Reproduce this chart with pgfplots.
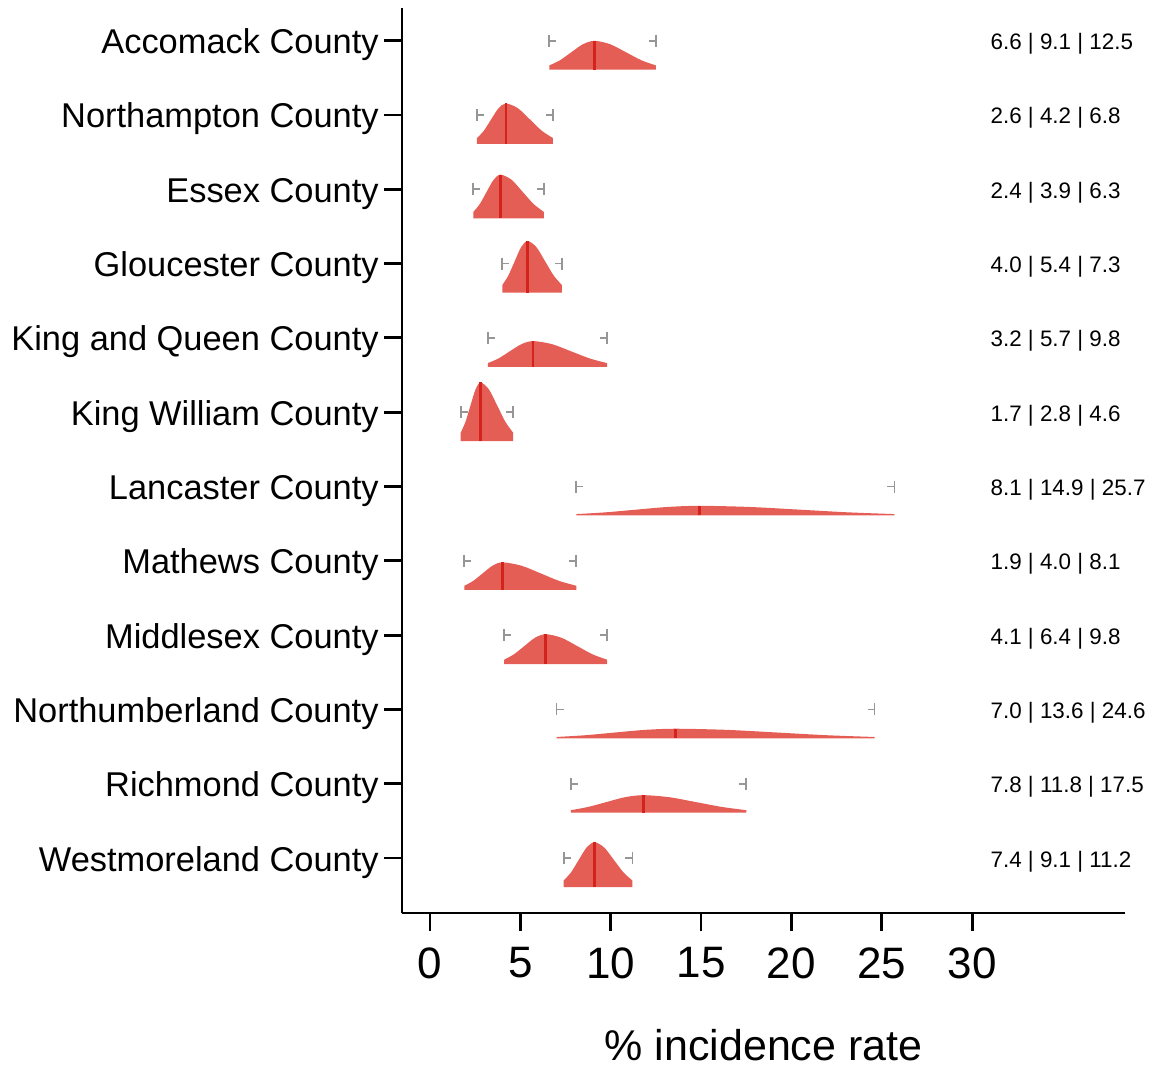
\documentclass[border=0pt]{standalone}
\usepackage{fontspec}
\setmainfont{Liberation Sans}
\usepackage{graphicx}
\usepackage{pgfplots}
\pgfplotsset{compat=1.18}
\usepgfplotslibrary{fillbetween}

\definecolor{vfill}{RGB}{228,94,85}
\definecolor{vmed}{RGB}{212,34,28}
\definecolor{capgray}{RGB}{150,150,150}

% interval end caps
\pgfdeclareplotmark{lcap}{%
  \pgfpathmoveto{\pgfqpoint{0pt}{3pt}}%
  \pgfpathlineto{\pgfqpoint{0pt}{-3pt}}%
  \pgfpathmoveto{\pgfqpoint{0pt}{0pt}}%
  \pgfpathlineto{\pgfqpoint{3.5pt}{0pt}}%
  \pgfusepathqstroke}
\pgfdeclareplotmark{rcap}{%
  \pgfpathmoveto{\pgfqpoint{0pt}{3pt}}%
  \pgfpathlineto{\pgfqpoint{0pt}{-3pt}}%
  \pgfpathmoveto{\pgfqpoint{0pt}{0pt}}%
  \pgfpathlineto{\pgfqpoint{-3.5pt}{0pt}}%
  \pgfusepathqstroke}

% row, lower, upper
\pgfplotstableread{
y lo hi
12 6.6 12.5
11 2.6 6.8
10 2.4 6.3
9 4.0 7.3
8 3.2 9.8
7 1.7 4.6
6 8.1 25.7
5 1.9 8.1
4 4.1 9.8
3 7.0 24.6
2 7.8 17.5
1 7.4 11.2
}\caps

\begin{document}
\begin{tikzpicture}
\begin{axis}[%
width=361.5pt,
height=452.5pt,
scale only axis,
xmin=-1.55, xmax=38.46,
ymin=0.26, ymax=12.44,
axis x line*=bottom,
axis y line*=left,
axis line style={line width=1.4pt},
tick align=outside,
major tick length=9pt,
major tick style={black, line width=1.4pt},
xtick={0,5,...,30},
ytick={1,...,12},
yticklabels={Westmoreland County, Richmond County, Northumberland County,
  Middlesex County, Mathews County, Lancaster County, King William County,
  King and Queen County, Gloucester County, Essex County,
  Northampton County, Accomack County},
yticklabel style={font=\fontsize{17.2}{17.2}\selectfont, inner sep=0pt, anchor=base east, yshift=-6.5pt},
yticklabel shift=2.5pt,
xticklabel style={font=\fontsize{22}{22}\selectfont, inner sep=0pt, anchor=north},
xticklabel shift=8pt,
/pgf/number format/assume math mode=true,
xlabel={\% incidence rate},
xlabel style={font=\fontsize{21.5}{21.5}\selectfont, inner sep=0pt,
  at={(axis description cs:0.5,0)}, anchor=north, yshift=-58pt},
clip=false,
]
\coordinate (sw) at (rel axis cs:0,0);

% Accomack
\addplot[name path=c12, smooth, draw=none] coordinates {
  (6.6,11.667) (7.19,11.736) (7.83,11.846) (8.46,11.952) (9.1,11.998)
  (9.97,11.952) (10.83,11.846) (11.70,11.736) (12.5,11.667)};
\addplot[name path=b12, draw=none] coordinates {(6.6,11.61) (12.5,11.61)};
\addplot[vfill] fill between[of=c12 and b12];

% Northampton
\addplot[name path=c11, smooth, draw=none] coordinates {
  (2.6,10.690) (2.976,10.787) (3.384,10.941) (3.792,11.091) (4.2,11.155)
  (4.863,11.091) (5.526,10.941) (6.189,10.787) (6.8,10.690)};
\addplot[name path=b11, draw=none] coordinates {(2.6,10.61) (6.8,10.61)};
\addplot[vfill] fill between[of=c11 and b11];

% Essex
\addplot[name path=c10, smooth, draw=none] coordinates {
  (2.4,9.696) (2.753,9.801) (3.135,9.966) (3.518,10.128) (3.9,10.197)
  (4.512,10.128) (5.124,9.966) (5.736,9.801) (6.3,9.696)};
\addplot[name path=b10, draw=none] coordinates {(2.4,9.61) (6.3,9.61)};
\addplot[vfill] fill between[of=c10 and b10];

% Gloucester
\addplot[name path=c9, smooth, draw=none] coordinates {
  (4.0,8.711) (4.329,8.836) (4.686,9.031) (5.043,9.222) (5.4,9.304)
  (5.885,9.222) (6.369,9.031) (6.854,8.836) (7.3,8.711)};
\addplot[name path=b9, draw=none] coordinates {(4.0,8.61) (7.3,8.61)};
\addplot[vfill] fill between[of=c9 and b9];

% King and Queen
\addplot[name path=c8, smooth, draw=none] coordinates {
  (3.2,7.661) (3.788,7.723) (4.425,7.821) (5.063,7.916) (5.7,7.957)
  (6.746,7.916) (7.791,7.821) (8.837,7.723) (9.8,7.661)};
\addplot[name path=b8, draw=none] coordinates {(3.2,7.61) (9.8,7.61)};
\addplot[vfill] fill between[of=c8 and b8];

% King William
\addplot[name path=c7, smooth, draw=none] coordinates {
  (1.7,6.725) (1.959,6.867) (2.239,7.090) (2.520,7.307) (2.8,7.400)
  (3.259,7.307) (3.718,7.090) (4.177,6.867) (4.6,6.725)};
\addplot[name path=b7, draw=none] coordinates {(1.7,6.61) (4.6,6.61)};
\addplot[vfill] fill between[of=c7 and b7];

% Lancaster
\addplot[name path=c6, smooth, draw=none] coordinates {
  (8.1,5.629) (9.698,5.652) (11.432,5.689) (13.166,5.725) (14.9,5.740)
  (17.654,5.725) (20.408,5.689) (23.162,5.652) (25.7,5.629)};
\addplot[name path=b6, draw=none] coordinates {(8.1,5.61) (25.7,5.61)};
\addplot[vfill] fill between[of=c6 and b6];

% Mathews
\addplot[name path=c5, smooth, draw=none] coordinates {
  (1.9,4.664) (2.394,4.730) (2.929,4.834) (3.465,4.935) (4.0,4.979)
  (5.046,4.935) (6.091,4.834) (7.137,4.730) (8.1,4.664)};
\addplot[name path=b5, draw=none] coordinates {(1.9,4.61) (8.1,4.61)};
\addplot[vfill] fill between[of=c5 and b5];

% Middlesex
\addplot[name path=c4, smooth, draw=none] coordinates {
  (4.1,3.669) (4.641,3.741) (5.227,3.854) (5.814,3.965) (6.4,4.012)
  (7.267,3.965) (8.134,3.854) (9.001,3.741) (9.8,3.669)};
\addplot[name path=b4, draw=none] coordinates {(4.1,3.61) (9.8,3.61)};
\addplot[vfill] fill between[of=c4 and b4];

% Northumberland
\addplot[name path=c3, smooth, draw=none] coordinates {
  (7.0,2.629) (8.551,2.652) (10.234,2.689) (11.917,2.725) (13.6,2.740)
  (16.405,2.725) (19.21,2.689) (22.015,2.652) (24.6,2.629)};
\addplot[name path=b3, draw=none] coordinates {(7.0,2.61) (24.6,2.61)};
\addplot[vfill] fill between[of=c3 and b3];

% Richmond
\addplot[name path=c2, smooth, draw=none] coordinates {
  (7.8,1.644) (8.74,1.687) (9.76,1.753) (10.78,1.818) (11.8,1.846)
  (13.254,1.818) (14.707,1.753) (16.161,1.687) (17.5,1.644)};
\addplot[name path=b2, draw=none] coordinates {(7.8,1.61) (17.5,1.61)};
\addplot[vfill] fill between[of=c2 and b2];

% Westmoreland
\addplot[name path=c1, smooth, draw=none] coordinates {
  (7.4,0.698) (7.800,0.806) (8.233,0.976) (8.667,1.142) (9.1,1.213)
  (9.636,1.142) (10.171,0.976) (10.707,0.806) (11.2,0.698)};
\addplot[name path=b1, draw=none] coordinates {(7.4,0.61) (11.2,0.61)};
\addplot[vfill] fill between[of=c1 and b1];

% medians
\addplot[vmed, line width=1.3pt, unbounded coords=jump] coordinates {
  (9.1,11.61) (9.1,11.998) (nan,nan)
  (4.2,10.61) (4.2,11.155) (nan,nan)
  (3.9,9.61) (3.9,10.197) (nan,nan)
  (5.4,8.61) (5.4,9.304) (nan,nan)
  (5.7,7.61) (5.7,7.957) (nan,nan)
  (2.8,6.61) (2.8,7.400) (nan,nan)
  (14.9,5.61) (14.9,5.740) (nan,nan)
  (4.0,4.61) (4.0,4.979) (nan,nan)
  (6.4,3.61) (6.4,4.012) (nan,nan)
  (13.6,2.61) (13.6,2.740) (nan,nan)
  (11.8,1.61) (11.8,1.846) (nan,nan)
  (9.1,0.61) (9.1,1.213)};

% interval caps
\addplot[only marks, mark=lcap, capgray, mark options={line width=0.9pt}] table[x=lo, y=y] {\caps};
\addplot[only marks, mark=rcap, capgray, mark options={line width=0.9pt}] table[x=hi, y=y] {\caps};

% summary text
\addplot[draw=none, mark=none, point meta=explicit symbolic,
  nodes near coords, nodes near coords align=horizontal,
  every node near coord/.append style={font=\fontsize{11.2}{11.2}\selectfont,
    inner sep=0pt, anchor=base west, yshift=-4.5pt, text=black}]
  coordinates {
  (31,12) [6.6 | 9.1 | 12.5]
  (31,11) [2.6 | 4.2 | 6.8]
  (31,10) [2.4 | 3.9 | 6.3]
  (31,9) [4.0 | 5.4 | 7.3]
  (31,8) [3.2 | 5.7 | 9.8]
  (31,7) [1.7 | 2.8 | 4.6]
  (31,6) [8.1 | 14.9 | 25.7]
  (31,5) [1.9 | 4.0 | 8.1]
  (31,4) [4.1 | 6.4 | 9.8]
  (31,3) [7.0 | 13.6 | 24.6]
  (31,2) [7.8 | 11.8 | 17.5]
  (31,1) [7.4 | 9.1 | 11.2]};
\end{axis}
\pgfresetboundingbox
\path ([shift={(-201pt,-76pt)}]sw) rectangle ([shift={(378.5pt,456.5pt)}]sw);
\end{tikzpicture}
\end{document}
